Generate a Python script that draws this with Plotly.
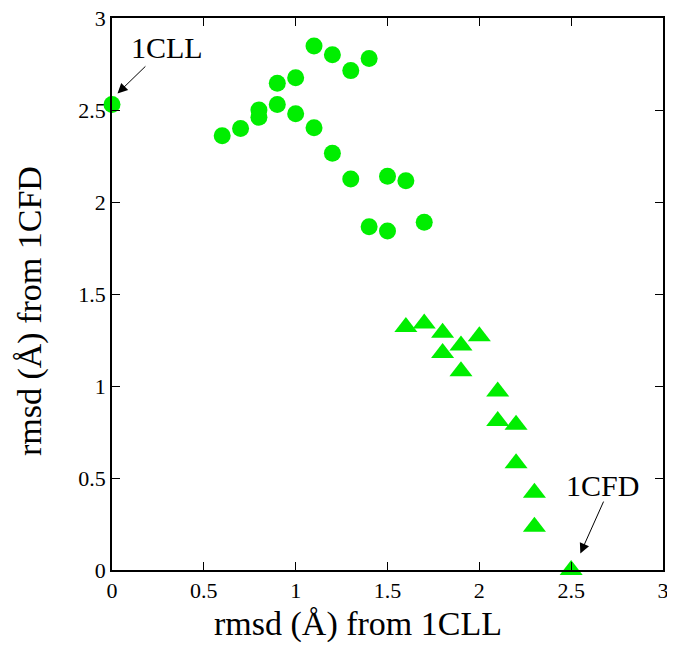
import plotly.graph_objects as go

# circles: structures nearer 1CLL
circle_x = [0.0, 0.6, 0.7, 0.8, 0.8, 0.9, 0.9, 1.0, 1.0, 1.1, 1.1, 1.2, 1.3, 1.4,
            1.2, 1.3, 1.5, 1.6, 1.4, 1.5, 1.7]
circle_y = [2.53, 2.36, 2.40, 2.50, 2.46, 2.645, 2.53, 2.675, 2.48, 2.848, 2.404, 2.80, 2.714, 2.78,
            2.265, 2.125, 2.14, 2.116, 1.866, 1.842, 1.89]

# triangles: structures nearer 1CFD
tri_x = [1.6, 1.7, 1.8, 1.8, 1.9, 1.9, 2.0, 2.1, 2.1, 2.2, 2.2, 2.3, 2.3, 2.5]
tri_y = [1.32, 1.34, 1.29, 1.18, 1.22, 1.08, 1.27, 0.97, 0.81, 0.79, 0.58, 0.42, 0.235, 0.0]

x_ticks = [0, 0.5, 1, 1.5, 2, 2.5, 3]
x_tick_labels = ["0", "0.5", "1", "1.5", "2", "2.5", "3"]
y_ticks = [0, 0.5, 1, 1.5, 2, 2.5, 3]
y_tick_labels = ["0", "0.5", "1", "1.5", "2", "2.5", "3"]

green = "#00ee00"
font = "Liberation Serif, Times New Roman, serif"

fig = go.Figure()
fig.add_trace(go.Scatter(x=circle_x, y=circle_y, mode="markers",
                         marker=dict(symbol="circle", size=17, color=green, line=dict(width=0)),
                         cliponaxis=False, showlegend=False))
fig.add_trace(go.Scatter(x=tri_x, y=tri_y, mode="markers",
                         marker=dict(symbol="triangle-up", size=20, color=green, line=dict(width=0)),
                         cliponaxis=False, showlegend=False))

fig.add_annotation(x=0.03, y=2.59, ax=0.19, ay=2.745, axref="x", ayref="y",
                   text="", showarrow=True, arrowhead=2, arrowsize=2, arrowwidth=1, arrowcolor="black")
fig.add_annotation(x=0.30, y=2.84, text="1CLL", showarrow=False,
                   font=dict(family=font, size=30, color="black"))
fig.add_annotation(x=2.55, y=0.09, ax=2.68, ay=0.38, axref="x", ayref="y",
                   text="", showarrow=True, arrowhead=2, arrowsize=2, arrowwidth=1, arrowcolor="black")
fig.add_annotation(x=2.67, y=0.46, text="1CFD", showarrow=False,
                   font=dict(family=font, size=30, color="black"))

# axis titles placed in paper space
fig.add_annotation(xref="paper", yref="paper", x=0.446, y=-0.097, yanchor="middle",
                   text="rmsd (Å) from 1CLL", showarrow=False,
                   font=dict(family=font, size=34, color="black"))
fig.add_annotation(xref="paper", yref="paper", x=-0.149, y=0.469, xanchor="center", yanchor="middle",
                   textangle=-90, text="rmsd (Å) from 1CFD", showarrow=False,
                   font=dict(family=font, size=34, color="black"))

axis_common = dict(showgrid=False, zeroline=False, showline=True, linecolor="black", linewidth=1.5,
                   mirror="ticks", ticks="inside", ticklen=8, tickwidth=1, tickcolor="black",
                   automargin=False, ticklabeloverflow="allow",
                   tickfont=dict(family=font, size=22, color="black"))

# the page body has an 8px margin, so the figure is sized to fit inside the window
fig.update_layout(
    width=667, height=637,
    margin=dict(l=104, r=12, t=10, b=75),
    paper_bgcolor="white", plot_bgcolor="white",
    font=dict(family=font, color="black"),
    xaxis=dict(range=[0, 3], tickvals=x_ticks, ticktext=x_tick_labels, **axis_common),
    yaxis=dict(range=[0, 3], tickvals=y_ticks, ticktext=y_tick_labels, **axis_common),
)

fig.write_html("out.html")
